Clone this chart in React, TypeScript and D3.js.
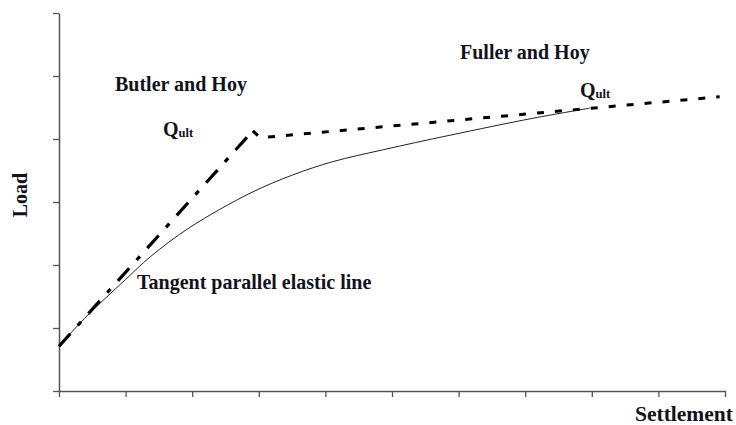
import React, { useEffect, useRef } from "react";
import * as d3 from "d3";

const xTicks = [0, 1, 2, 3, 4, 5, 6, 7, 8, 9, 10];
const yTicks = [0, 1, 2, 3, 4, 5, 6];

// Load–settlement curve (solid)
const curveX = [0, 0.39, 1.0, 1.37, 1.97, 2.87, 3.51, 4.11, 4.87, 5.87, 7.12, 7.97];
const curveY = [0.71, 1.16, 1.77, 2.13, 2.6, 3.14, 3.43, 3.64, 3.83, 4.06, 4.33, 4.49];

// Butler and Hoy tangent (dash-dot)
const butlerX = [0, 2.91];
const butlerY = [0.71, 4.13];

// Fuller and Hoy line (dotted)
const fullerX = [2.91, 3.02, 9.92];
const fullerY = [4.13, 4.02, 4.67];

const W = 736;
const H = 425;

export default function App() {
  const ref = useRef<SVGSVGElement>(null);

  useEffect(() => {
    const svg = d3.select(ref.current);
    svg.selectAll("*").remove();

    const x = d3.scaleLinear().domain([0, 10]).range([59, 725]);
    const y = d3.scaleLinear().domain([0, 6]).range([391, 13]);
    const axisColor = "#555";
    const textColor = "#12121c";
    const font = "'Liberation Serif', 'Times New Roman', serif";

    // axes
    const gx = svg.append("g").attr("transform", `translate(0,${y(0)})`);
    gx.call(d3.axisBottom(x).tickValues(xTicks).tickSize(6).tickSizeOuter(0).tickFormat(() => ""));
    const gy = svg.append("g").attr("transform", `translate(${x(0)},0)`);
    gy.call(d3.axisLeft(y).tickValues(yTicks).tickSize(6).tickSizeOuter(0).tickFormat(() => ""));
    svg.selectAll(".domain").attr("stroke", axisColor).attr("stroke-width", 1.5);
    svg.selectAll(".tick line").attr("stroke", axisColor).attr("stroke-width", 1.3);

    const line = d3
      .line<[number, number]>()
      .x((d) => x(d[0]))
      .y((d) => y(d[1]));

    const curvePts = curveX.map((v, i) => [v, curveY[i]] as [number, number]);
    svg
      .append("path")
      .attr(
        "d",
        d3
          .line<[number, number]>()
          .x((d) => x(d[0]))
          .y((d) => y(d[1]))
          .curve(d3.curveCatmullRom.alpha(0.5))(curvePts)
      )
      .attr("fill", "none")
      .attr("stroke", "#222")
      .attr("stroke-width", 1);

    const butlerPts = butlerX.map((v, i) => [v, butlerY[i]] as [number, number]);
    svg
      .append("path")
      .attr("d", line(butlerPts))
      .attr("fill", "none")
      .attr("stroke", "#000")
      .attr("stroke-width", 3.2)
      .attr("stroke-dasharray", "17,11,5,11");

    const fullerPts = fullerX.map((v, i) => [v, fullerY[i]] as [number, number]);
    svg
      .append("path")
      .attr("d", line(fullerPts))
      .attr("fill", "none")
      .attr("stroke", "#000")
      .attr("stroke-width", 3)
      .attr("stroke-dasharray", "7,11");

    const addText = (tx: number, ty: number, s: string, size = 20) =>
      svg
        .append("text")
        .attr("x", tx)
        .attr("y", ty)
        .attr("font-family", font)
        .attr("font-weight", "bold")
        .attr("font-size", size)
        .attr("fill", textColor)
        .text(s);

    addText(115, 91, "Butler and Hoy");
    addText(460, 59, "Fuller and Hoy");
    addText(137, 289, "Tangent parallel elastic line");
    addText(635, 421, "Settlement", 21.5);

    const q = (tx: number, ty: number) => {
      const t = svg
        .append("text")
        .attr("x", tx)
        .attr("y", ty)
        .attr("font-family", font)
        .attr("font-weight", "bold")
        .attr("font-size", 20)
        .attr("fill", textColor);
      t.append("tspan").text("Q");
      t.append("tspan").attr("font-size", 12.5).attr("dy", 1).text("ult");
    };
    q(163, 136);
    q(580, 97);

    svg
      .append("text")
      .attr("transform", `translate(27,195) rotate(-90)`)
      .attr("text-anchor", "middle")
      .attr("font-family", font)
      .attr("font-weight", "bold")
      .attr("font-size", 20)
      .attr("fill", textColor)
      .text("Load");
  }, []);

  return (
    <svg
      ref={ref}
      width={W}
      height={H}
      style={{ position: "absolute", left: 0, top: 0, background: "#fff" }}
    />
  );
}
